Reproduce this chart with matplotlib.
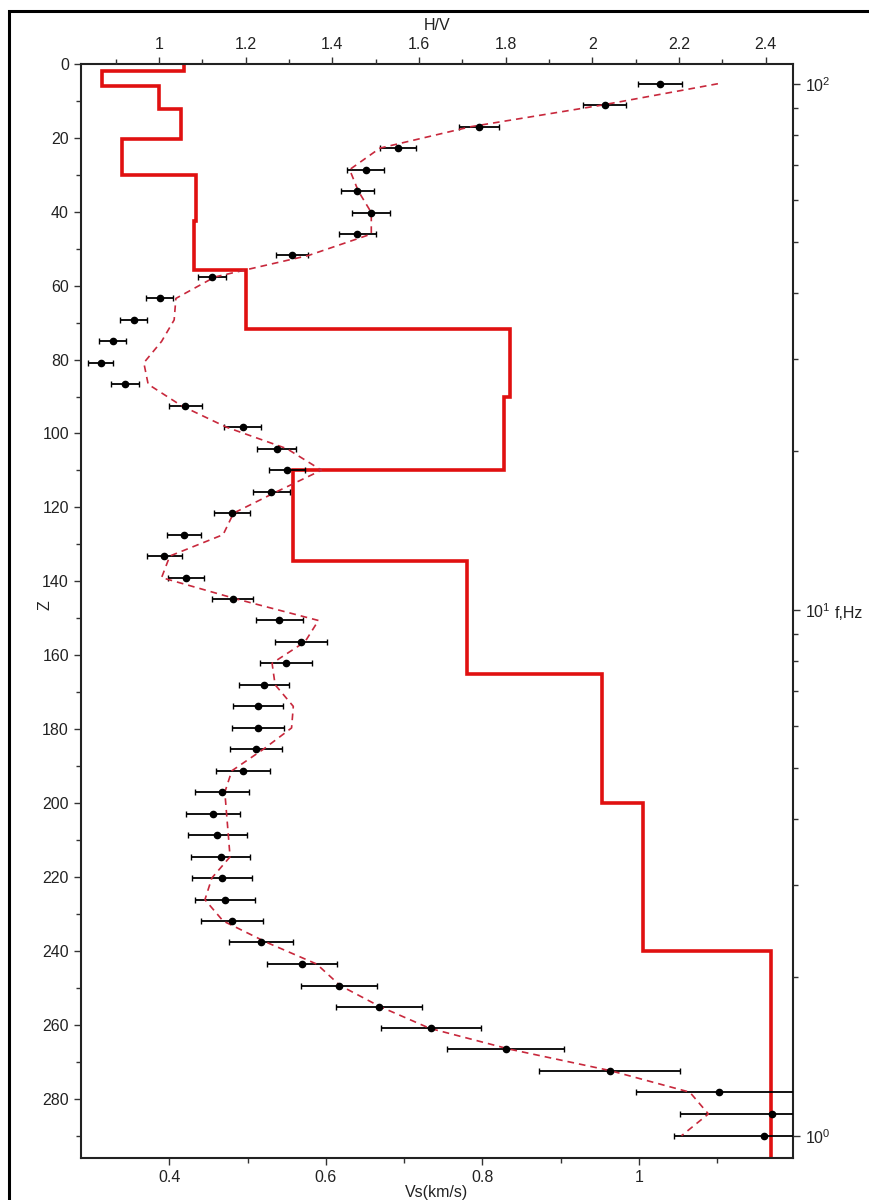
import numpy as np
import matplotlib.pyplot as plt
from matplotlib.patches import Rectangle
from matplotlib.ticker import FixedLocator, FormatStrFormatter, LogLocator

plt.rcParams['font.family'] = ['Liberation Sans', 'DejaVu Sans']
plt.rcParams['font.size'] = 11.5

# Vs layered model: layer top / bottom depth and shear velocity
layer_top = [0, 1.9, 6.0, 12.1, 20.2, 30.0, 42.4, 55.7, 71.7, 90, 110, 134.5, 165, 200, 240]
layer_bot = [1.9, 6.0, 12.1, 20.2, 30.0, 42.4, 55.7, 71.7, 90, 110, 134.5, 165, 200, 240, 296]
vs = [0.419, 0.314, 0.387, 0.415, 0.340, 0.4345, 0.4315, 0.4976, 0.835, 0.8275,
      0.558, 0.7806, 0.953, 1.0054, 1.169]

# H/V curve: observed (with errors) and model, vs frequency
freq = [100.0, 91.0, 82.86, 75.44, 68.66, 62.51, 56.9, 51.79, 47.15, 42.92,
        39.07, 35.56, 32.37, 29.47, 26.83, 24.42, 22.23, 20.24, 18.42, 16.77,
        15.26, 13.89, 12.65, 11.51, 10.48, 9.54, 8.69, 7.91, 7.2, 6.55,
        5.96, 5.43, 4.94, 4.5, 4.09, 3.73, 3.39, 3.09, 2.81, 2.56,
        2.33, 2.12, 1.93, 1.76, 1.6, 1.46, 1.33, 1.21, 1.1, 1.0]
hv_obs = [2.156, 2.029, 1.739, 1.551, 1.477, 1.458, 1.489, 1.458, 1.306, 1.122,
          1.002, 0.942, 0.893, 0.865, 0.922, 1.061, 1.193, 1.272, 1.295, 1.259,
          1.168, 1.058, 1.012, 1.062, 1.170, 1.278, 1.327, 1.292, 1.243, 1.229,
          1.229, 1.223, 1.194, 1.146, 1.124, 1.135, 1.142, 1.145, 1.152, 1.169,
          1.236, 1.331, 1.415, 1.508, 1.628, 1.800, 2.040, 2.292, 2.414, 2.396]
hv_err = [0.050, 0.050, 0.046, 0.042, 0.042, 0.039, 0.044, 0.042, 0.037, 0.032,
          0.031, 0.031, 0.031, 0.028, 0.032, 0.038, 0.042, 0.045, 0.042, 0.043,
          0.041, 0.039, 0.040, 0.042, 0.048, 0.055, 0.060, 0.060, 0.058, 0.058,
          0.060, 0.060, 0.062, 0.062, 0.062, 0.067, 0.069, 0.069, 0.069, 0.071,
          0.074, 0.081, 0.088, 0.100, 0.115, 0.135, 0.163, 0.192, 0.212, 0.208]
hv_model = [2.29, 2.02, 1.72, 1.51, 1.44, 1.46, 1.49, 1.49, 1.345, 1.129,
            1.039, 1.035, 1.006, 0.965, 0.975, 1.052, 1.156, 1.295, 1.375, 1.272,
            1.172, 1.148, 1.025, 1.006, 1.179, 1.368, 1.337, 1.261, 1.268, 1.31,
            1.306, 1.241, 1.168, 1.152, 1.156, 1.16, 1.164, 1.122, 1.106, 1.148,
            1.249, 1.364, 1.418, 1.51, 1.625, 1.81, 2.041, 2.225, 2.268, 2.206]

# staircase for the profile
prof_v, prof_z = [], []
for v, t, b in zip(vs, layer_top, layer_bot):
    prof_v += [v, v]
    prof_z += [t, b]

fig = plt.figure(figsize=(8.7, 12), dpi=100)
pos = [80.7 / 870, 1 - 1157.7 / 1200, (793.3 - 80.7) / 870, (1157.7 - 64) / 1200]

ax = fig.add_axes(pos)
ax.plot(prof_v, prof_z, color='#e01010', lw=2.6, solid_joinstyle='miter')
ax.set_xlim(0.2868, 1.197)
ax.set_ylim(296, 0)
ax.xaxis.set_major_locator(FixedLocator([0.4, 0.6, 0.8, 1.0]))
ax.xaxis.set_minor_locator(FixedLocator([0.5, 0.7, 0.9, 1.1]))
ax.xaxis.set_major_formatter(FormatStrFormatter('%g'))
ax.yaxis.set_major_locator(FixedLocator(np.arange(0, 281, 20)))
ax.yaxis.set_minor_locator(FixedLocator(np.arange(10, 291, 20)))
ax.tick_params(which='both', direction='out', color='#333333', width=1.0, labelcolor='#222222')
ax.tick_params(which='major', length=5)
ax.tick_params(which='minor', length=3.5)
for s in ax.spines.values():
    s.set_linewidth(1.5)
    s.set_color('#222222')

ax2 = fig.add_axes(pos, frameon=False)
ax2.patch.set_visible(False)
ax2.errorbar(hv_obs, freq, xerr=hv_err, fmt='o', color='black', ms=4.5,
             elinewidth=1.3, capsize=2.5, capthick=1.0)
ax2.plot(hv_model, freq, color='#c8283c', lw=1.2, dashes=(4, 3))
ax2.set_xlim(0.8193, 2.464)
ax2.set_yscale('log')
ax2.set_ylim(10 ** -0.0418, 10 ** 2.0375)
ax2.xaxis.set_ticks_position('top')
ax2.xaxis.set_label_position('top')
ax2.yaxis.set_ticks_position('right')
ax2.xaxis.set_major_locator(FixedLocator([1.0, 1.2, 1.4, 1.6, 1.8, 2.0, 2.2, 2.4]))
ax2.xaxis.set_minor_locator(FixedLocator([0.9, 1.1, 1.3, 1.5, 1.7, 1.9, 2.1, 2.3]))
ax2.xaxis.set_major_formatter(FormatStrFormatter('%g'))
ax2.yaxis.set_major_locator(LogLocator(base=10))
ax2.yaxis.set_minor_locator(LogLocator(base=10, subs=np.arange(2, 10)))
ax2.tick_params(which='both', direction='out', color='#333333', width=1.0, labelcolor='#222222')
ax2.tick_params(which='major', length=5)
ax2.tick_params(which='minor', length=3.5)
ax2.yaxis.set_minor_formatter(plt.NullFormatter())

fig.text(437 / 870, 1 - 26 / 1200, 'H/V', ha='center', va='center', fontsize=11.5, color='#222222')
fig.text(437 / 870, 1 - 1192 / 1200, 'Vs(km/s)', ha='center', va='center', fontsize=11.5, color='#222222')
fig.text(45 / 870, 1 - 605 / 1200, 'Z', ha='center', va='center', rotation=90, fontsize=11.5, color='#222222')
fig.text(835 / 870, 1 - 613 / 1200, 'f,Hz', ha='left', va='center', fontsize=11.5, color='#222222')

# outer frame (left and top edges visible in the picture)
fig.patches.append(Rectangle((9 / 870, -0.1), 2, 0.1 + 1 - 11 / 1200,
                             transform=fig.transFigure, fill=False,
                             lw=2.2, edgecolor='black'))

fig.savefig('out.png', dpi=100)
